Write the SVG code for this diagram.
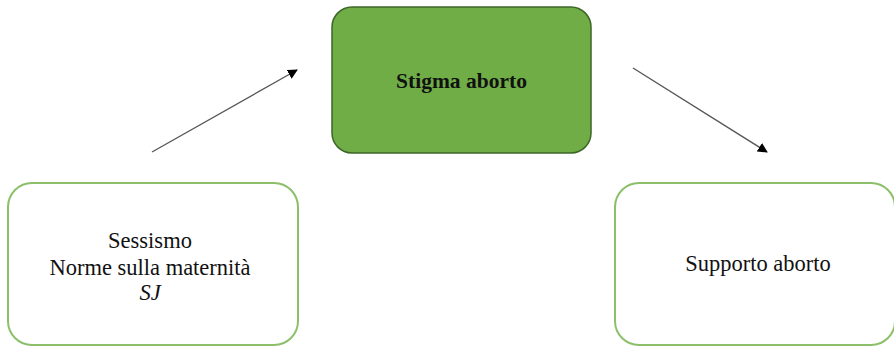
<svg xmlns="http://www.w3.org/2000/svg" width="894" height="349" viewBox="0 0 894 349">
<style>
.box{fill:#fff;stroke:#8cbf6a;stroke-width:2}
.main{fill:#70ad47;stroke:#3d6528;stroke-width:1.5}
.t{font-family:"Liberation Serif","Times New Roman",serif;font-size:22.5px;fill:#111;text-anchor:middle}
.conn line{stroke:#555;stroke-width:1.3;marker-end:url(#ah)}
</style>
<defs>
<marker id="ah" viewBox="0 0 10 10" refX="9" refY="5" markerWidth="10" markerHeight="10" markerUnits="userSpaceOnUse" orient="auto">
<path d="M0,0 L10,5 L0,10 z" fill="#000"/>
</marker>
</defs>
<rect width="894" height="349" fill="#fff"/>
<g id="stigma">
<rect class="main" x="332" y="7" width="259" height="146" rx="20"/>
<text class="t" x="461.5" y="88" font-weight="bold" style="font-size:21.5px">Stigma aborto</text>
</g>
<g id="cause">
<rect class="box" x="8" y="183" width="290" height="162" rx="24"/>
<text class="t" x="150" y="248">Sessismo</text>
<text class="t" x="150" y="275">Norme sulla maternità</text>
<text class="t" x="150" y="300" font-style="italic">SJ</text>
</g>
<g id="supporto">
<rect class="box" x="615" y="183" width="280" height="162" rx="24"/>
<text class="t" x="758" y="271">Supporto aborto</text>
</g>
<g id="connectors" class="conn">
<line x1="152" y1="152" x2="297" y2="70"/>
<line x1="633" y1="68" x2="767" y2="152"/>
</g>
</svg>
